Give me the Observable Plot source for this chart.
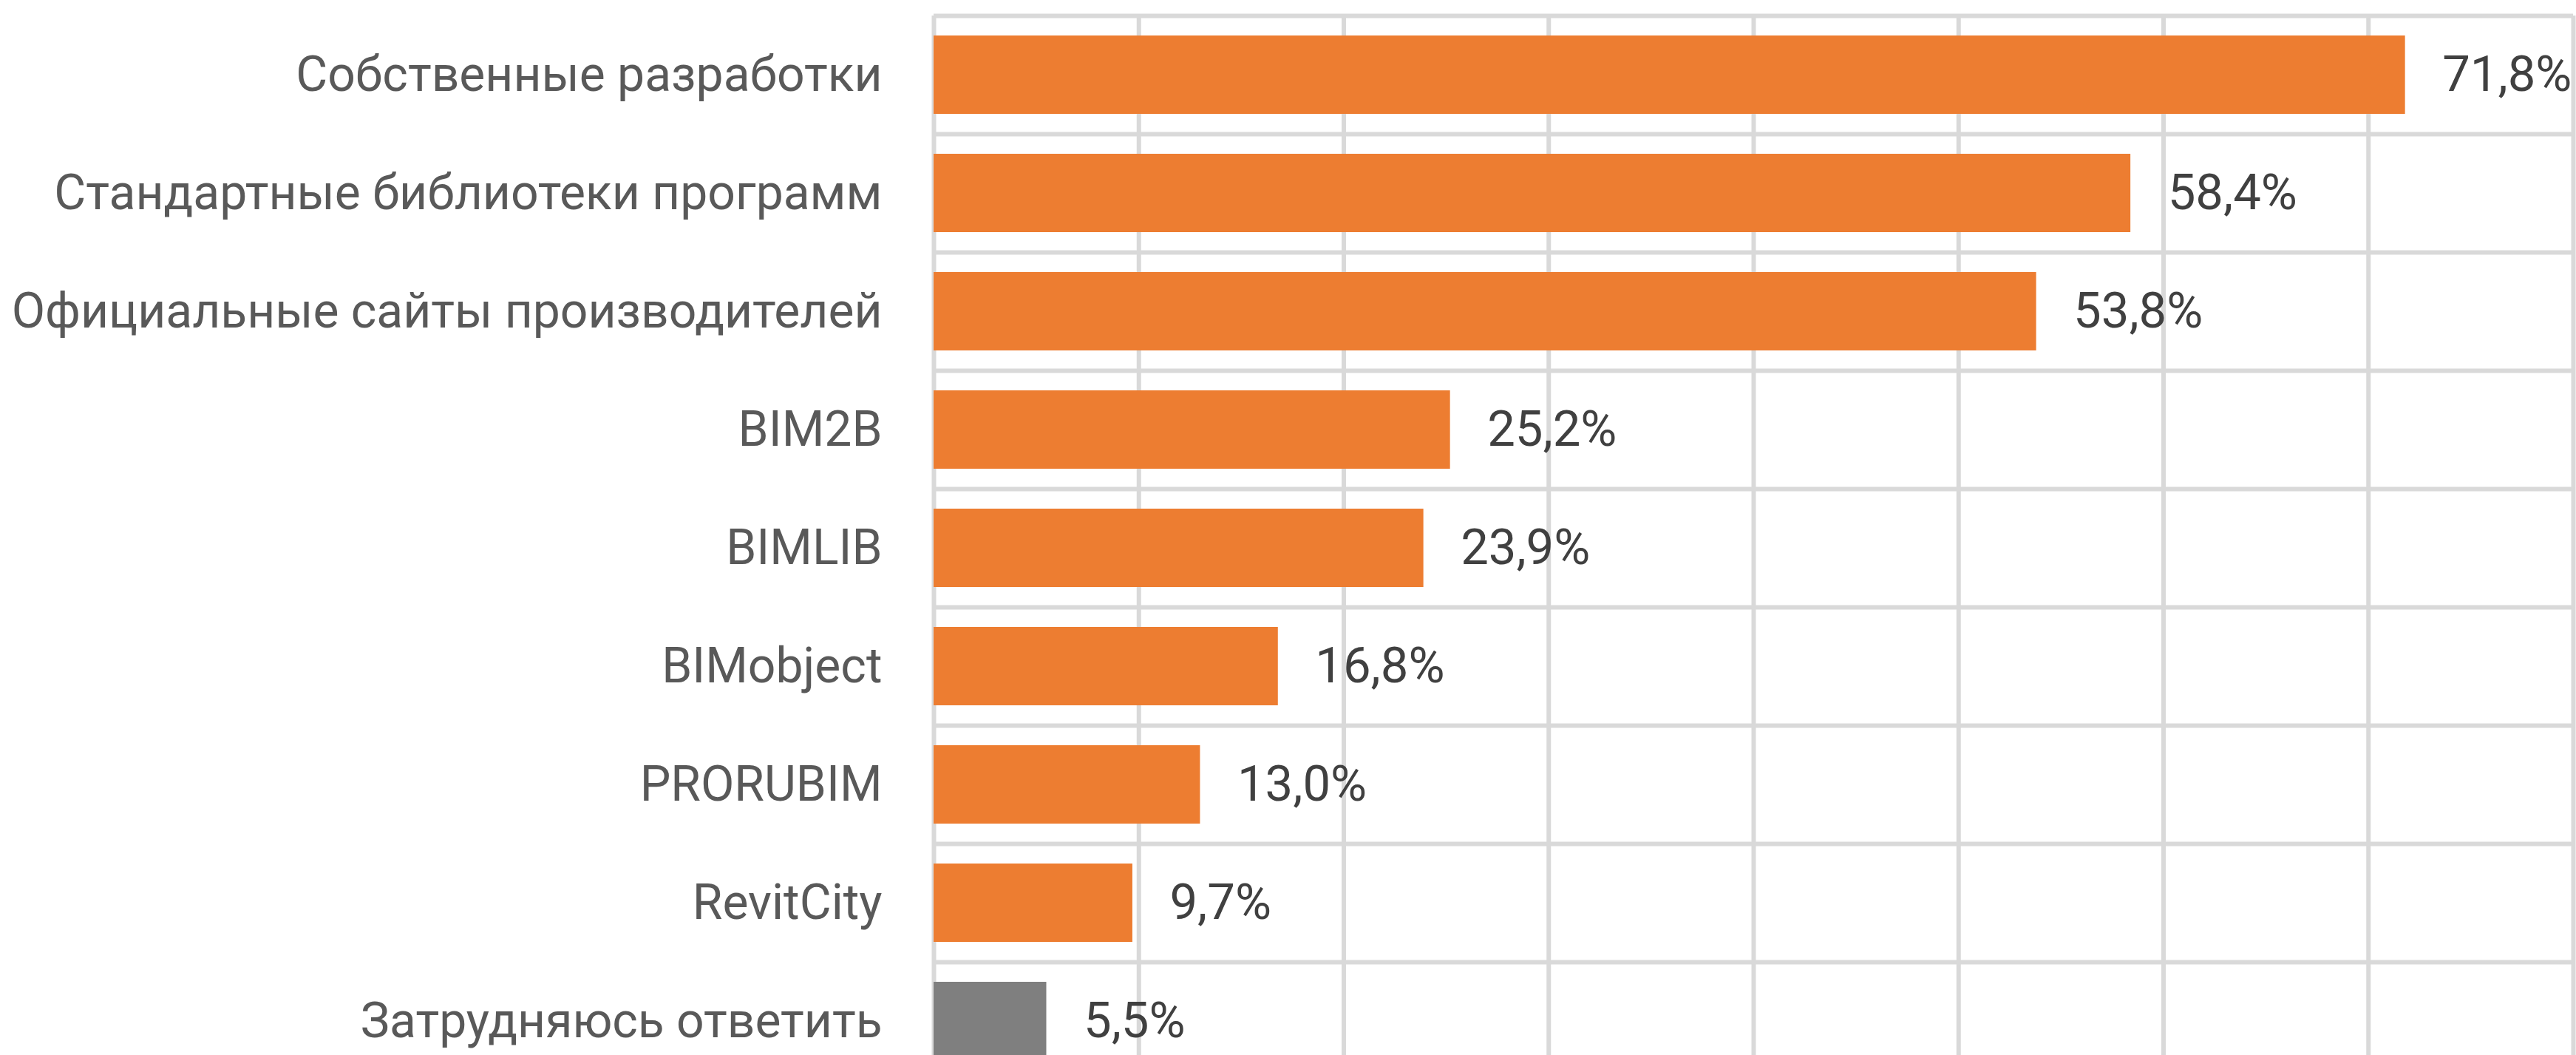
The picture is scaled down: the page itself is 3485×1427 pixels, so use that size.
<!DOCTYPE html>
<html>
<head>
<meta charset="utf-8">
<script src="https://cdn.jsdelivr.net/npm/d3@7"></script>
<script src="https://cdn.jsdelivr.net/npm/@observablehq/plot@0.6"></script>
<style>
  html, body { margin: 0; padding: 0; background: #ffffff; overflow: hidden; }
  #chart { width: 3485px; height: 1427px; }
</style>
</head>
<body>
<div id="chart"></div>
<script>
const categories = [
  "Собственные разработки",
  "Стандартные библиотеки программ",
  "Официальные сайты производителей",
  "BIM2B",
  "BIMLIB",
  "BIMobject",
  "PRORUBIM",
  "RevitCity",
  "Затрудняюсь ответить"
];
const values = [71.8, 58.4, 53.8, 25.2, 23.9, 16.8, 13.0, 9.7, 5.5];
const xTicks = [0, 10, 20, 30, 40, 50, 60, 70, 80];
const unsureCategory = "Затрудняюсь ответить";

const data = categories.map((c, i) => ({category: c, value: values[i]}));
const fmt = d => d.value.toFixed(1).replace(".", ",") + "%";

const bandTop = 21, bandBottom = 1461;
const bandStep = (bandBottom - bandTop) / categories.length;

const chart = Plot.plot({
  width: 3485,
  height: 1427,
  marginLeft: 1263,
  marginRight: 4,
  marginTop: 21,
  marginBottom: 0,
  style: {fontFamily: "Roboto, 'Noto Sans', sans-serif", fontSize: "66px", color: "#595959", background: "white", overflow: "hidden"},
  x: {domain: [0, 80], range: [1263, 3481], axis: null},
  y: {domain: categories, range: [bandTop, bandBottom], paddingInner: 0.3375, paddingOuter: 0.16875, tickSize: 0, tickPadding: 70, label: null},
  marks: [
    Plot.ruleX(xTicks, {x: d => d, stroke: "#d9d9d9", strokeWidth: 6}),
    Plot.ruleY(categories, {y: d => d, dy: -bandStep / 2, stroke: "#d9d9d9", strokeWidth: 6}),
    Plot.barX(data, {x: "value", y: "category", fill: d => d.category === unsureCategory ? "#7F7F7F" : "#ED7D31"}),
    Plot.text(data, {x: "value", y: "category", text: fmt, textAnchor: "start", dx: 50, fill: "#404040", fontSize: 67})
  ]
});
document.getElementById("chart").appendChild(chart);
</script>
</body>
</html>
